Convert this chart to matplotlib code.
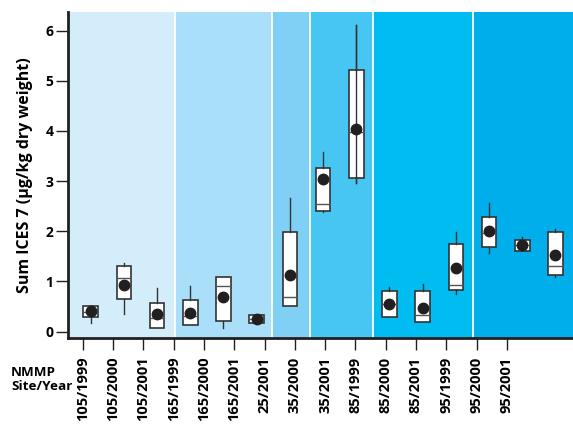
import matplotlib
matplotlib.use("Agg")
import matplotlib.pyplot as plt
import numpy as np

plt.rcParams['font.family'] = ['Open Sans', 'DejaVu Sans']
plt.rcParams['font.weight'] = 'bold'

labels = ['105/1999', '105/2000', '105/2001', '165/1999', '165/2000', '165/2001',
          '25/2001', '35/2000', '35/2001', '85/1999', '85/2000', '85/2001',
          '95/1999', '95/2000', '95/2001']
q1 = [0.30, 0.65, 0.08, 0.13, 0.22, 0.18, 0.51, 2.41, 3.06, 0.30, 0.19, 0.83, 1.68, 1.61, 1.12]
med = [0.40, 1.07, 0.27, 0.32, 0.91, 0.25, 0.69, 2.55, 3.97, 0.55, 0.33, 0.94, 1.96, 1.72, 1.30]
q3 = [0.51, 1.30, 0.58, 0.63, 1.08, 0.33, 1.99, 3.26, 5.22, 0.82, 0.81, 1.75, 2.29, 1.82, 1.98]
wlo = [0.17, 0.35, 0.08, 0.13, 0.07, 0.18, 0.51, 2.39, 2.96, 0.30, 0.19, 0.75, 1.56, 1.61, 1.08]
whi = [0.51, 1.36, 0.87, 0.92, 1.08, 0.33, 2.66, 3.58, 6.11, 0.89, 0.95, 1.98, 2.56, 1.88, 2.04]
mean = [0.41, 0.94, 0.35, 0.37, 0.70, 0.25, 1.12, 3.04, 4.04, 0.55, 0.48, 1.27, 2.01, 1.72, 1.52]

# background bands, one per site
band_colors = ['#d3eefa', '#a9dff8', '#7fd0f4', '#48c6f3', '#00bcf1', '#00aeeb']
band_edges = [-0.7, 2.53, 5.45, 6.62, 8.49, 11.52, 14.6]

fig = plt.figure(figsize=(5.73, 4.25), dpi=100)
ax = fig.add_axes([0.1187, 0.2047, 0.8813, 0.7671])

for i, c in enumerate(band_colors):
    ax.axvspan(band_edges[i], band_edges[i + 1], color=c, lw=0, zorder=0)
for e in band_edges[1:-1]:
    ax.axvline(e, color='white', lw=1.3, zorder=1)

pos = np.arange(len(labels))
stats = []
for i in range(len(labels)):
    stats.append(dict(med=med[i], q1=q1[i], q3=q3[i], whislo=wlo[i], whishi=whi[i], fliers=[]))

ax.bxp(stats, positions=pos, widths=0.44, patch_artist=True, showcaps=False,
       boxprops=dict(facecolor='white', edgecolor='#333333', linewidth=1.2),
       medianprops=dict(color='#555555', linewidth=1.0),
       whiskerprops=dict(color='#333333', linewidth=1.0), zorder=2)
# the 35/2001 whisker runs through the box
ax.plot([pos[8], pos[8]], [wlo[8], whi[8]], color='#333333', lw=1.0, zorder=3)
ax.plot(pos, mean, 'o', color='#231f20', ms=7.5, zorder=4)

ax.set_xlim(-0.684, 14.53)
ax.set_ylim(-0.126, 6.37)

for s in ['top', 'right']:
    ax.spines[s].set_visible(False)
for s in ['left', 'bottom']:
    ax.spines[s].set_linewidth(2.0)
    ax.spines[s].set_color('#231f20')
    ax.spines[s].set_zorder(5)

ax.set_yticks(range(7))
ax.tick_params(axis='y', length=8.5, width=1.0, color='#231f20', labelsize=10, pad=2)
ax.set_ylabel('Sum ICES 7 (\u00b5g/kg dry weight)', fontsize=11.5, fontweight='bold', labelpad=9)

# tick marks sit on a slightly narrower spacing than the boxes
tick_pos = -0.24 + 0.9127 * pos
ax.set_xticks(tick_pos)
ax.set_xticklabels(labels, rotation=90, fontsize=10.5, fontweight='bold')
ax.tick_params(axis='x', length=8.5, width=1.0, color='#231f20', pad=5)

fig.text(0.019, 0.106, 'NMMP\nSite/Year', fontsize=9.7, fontweight='bold',
         ha='left', va='center', linespacing=1.1)

fig.savefig('out.png', dpi=100)
